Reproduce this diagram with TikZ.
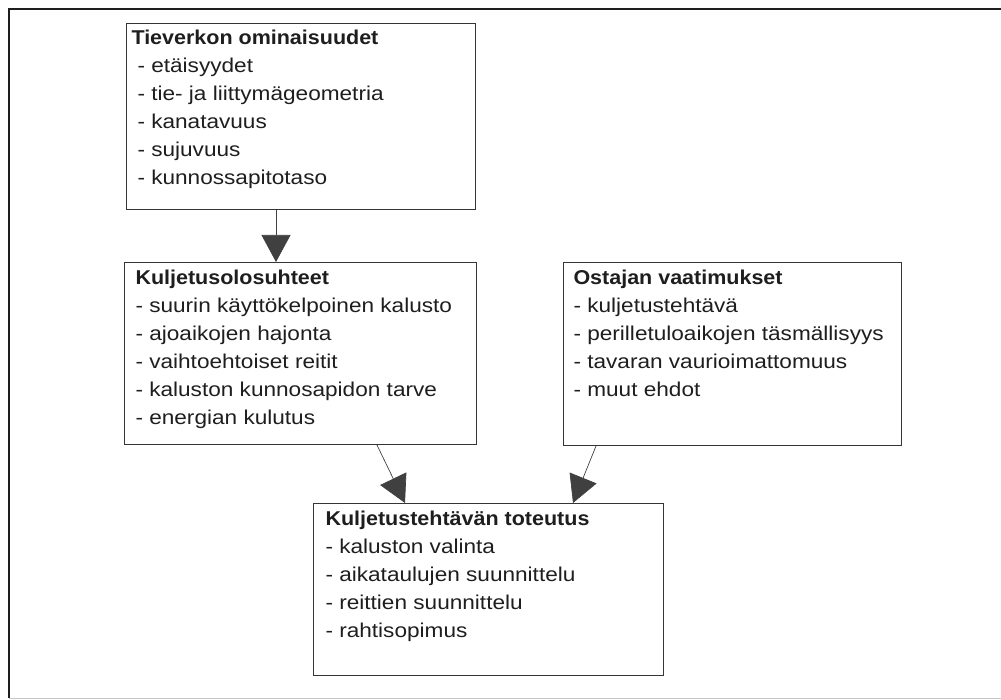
\documentclass[tikz,border=0pt]{standalone}
\usepackage{fontspec}
\setmainfont{Liberation Sans}[FakeStretch=1.13, BoldFeatures={FakeStretch=1.075}]
\usetikzlibrary{arrows.meta,calc}
\definecolor{ink}{HTML}{1E1E1E}
\tikzset{
  panel/.style={draw=ink!90, line width=1pt, inner sep=0pt, anchor=north west, text=ink},
  link/.style={draw=ink!85, line width=0.7pt, -{Triangle[length=27pt,width=29pt]}},
}
\newcommand{\panelbody}[4]{\hspace*{#1}\parbox[c][#3][t]{#2}{\fontsize{20}{28}\selectfont #4}}
\begin{document}
\begin{tikzpicture}[x=1pt,y=-1pt]
\useasboundingbox (0,0) rectangle (1001,700);
% outer frame
\coordinate (ftl) at (9,9);
\coordinate (ftr) at (1001,9);
\coordinate (fbl) at (9,698);
\coordinate (fbr) at (1001,698);
\draw[line width=2pt, ink] (ftr) -- (ftl) -- (fbl);
\draw[line width=1pt, gray!45] (fbl) -- (fbr);

\node[panel] (b1) at (126,23) {\panelbody{5pt}{344pt}{186pt}{%
\rule{0pt}{21pt}\textbf{Tieverkon ominaisuudet}\\
\hspace*{6pt}- etäisyydet\\
\hspace*{6pt}- tie- ja liittymägeometria\\
\hspace*{6pt}- kanatavuus\\
\hspace*{6pt}- sujuvuus\\
\hspace*{6pt}- kunnossapitotaso}};

\node[panel] (b2) at (124,262) {\panelbody{11pt}{341pt}{182pt}{%
\rule{0pt}{22pt}\textbf{Kuljetusolosuhteet}\\
- suurin käyttökelpoinen kalusto\\
- ajoaikojen hajonta\\
- vaihtoehtoiset reitit\\
- kaluston kunnosapidon tarve\\
- energian kulutus}};

\node[panel] (b3) at (563,262) {\panelbody{10pt}{328pt}{183pt}{%
\rule{0pt}{22pt}\textbf{Ostajan vaatimukset}\\
- kuljetustehtävä\\
- perilletuloaikojen täsmällisyys\\
- tavaran vaurioimattomuus\\
- muut ehdot}};

\node[panel] (b4) at (313,503) {\panelbody{12pt}{338pt}{172pt}{%
\rule{0pt}{22pt}\textbf{Kuljetustehtävän toteutus}\\
- kaluston valinta\\
- aikataulujen suunnittelu\\
- reittien suunnittelu\\
- rahtisopimus}};

\coordinate (a1s) at ($(b1.south west)+(150,0)$);
\coordinate (a1e) at ($(b2.north west)+(152,0)$);
\coordinate (a2s) at ($(b2.south west)+(253,0)$);
\coordinate (a2e) at ($(b4.north west)+(92,0)$);
\coordinate (a3s) at ($(b3.south west)+(33,0)$);
\coordinate (a3e) at ($(b4.north west)+(260,0)$);
\draw[link] (a1s) -- (a1e);
\draw[link] (a2s) -- (a2e);
\draw[link] (a3s) -- (a3e);
\end{tikzpicture}
\end{document}
